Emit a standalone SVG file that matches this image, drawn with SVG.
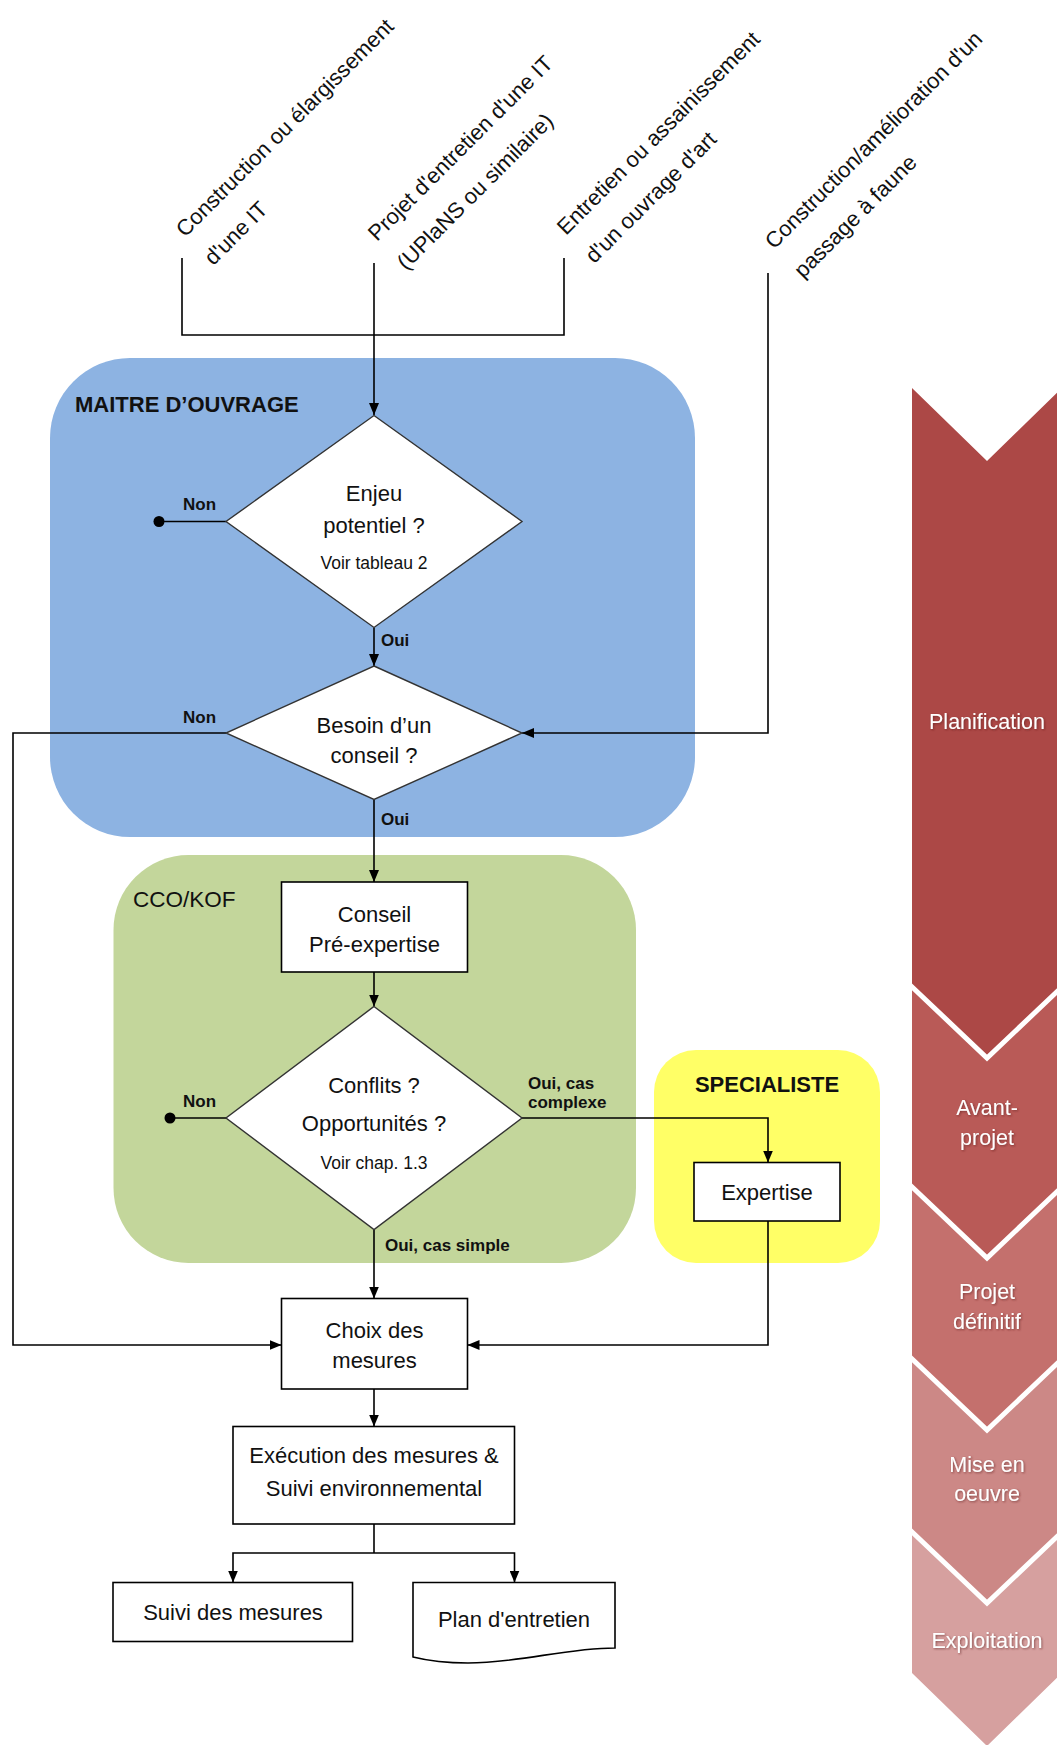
<svg xmlns="http://www.w3.org/2000/svg" width="1057" height="1745" viewBox="0 0 1057 1745">
  <defs>
    <marker id="arr" markerUnits="userSpaceOnUse" markerWidth="12" markerHeight="10" refX="12" refY="5" orient="auto">
      <path d="M0,0 L12,5 L0,10 Z" fill="#000"/>
    </marker>
    <filter id="sh" x="-10%" y="-30%" width="120%" height="160%">
      <feDropShadow dx="1" dy="1" stdDeviation="0.8" flood-color="#5a2020" flood-opacity="0.6"/>
    </filter>
  </defs>
  <style>
    text { font-family: "Liberation Sans", Arial, sans-serif; fill: #111; }
    .t22 { font-size: 22px; }
    .t18 { font-size: 17.5px; }
    .c { text-anchor: middle; }
    .lbl { font-size: 17px; font-weight: bold; }
    .hdr { font-size: 22px; font-weight: bold; }
    .box { fill: #fff; stroke: #000; stroke-width: 1.6; }
    .dia { fill: #fff; stroke: #333; stroke-width: 1.4; }
    .ln { fill: none; stroke: #000; stroke-width: 1.6; }
    .ph { fill: #fff; font-size: 21.5px; text-anchor: middle; filter: url(#sh); }
    .sep { fill: none; stroke: #fff; stroke-width: 5; }
  </style>

  <!-- Phase chevrons -->
  <g id="phases">
    <polygon points="912,388 987,461 1062,388 1062,985 987,1058 912,985" fill="#AC4846"/>
    <polygon points="912,985 987,1058 1062,985 1062,1185 987,1258 912,1185" fill="#B95A57"/>
    <polygon points="912,1185 987,1258 1062,1185 1062,1357 987,1430 912,1357" fill="#C4706D"/>
    <polygon points="912,1357 987,1430 1062,1357 1062,1530 987,1603 912,1530" fill="#CC8886"/>
    <polygon points="912,1530 987,1603 1062,1530 1062,1673 987,1746 912,1673" fill="#D6A09F"/>
    <polyline class="sep" points="910,985 987,1058 1064,985"/>
    <polyline class="sep" points="910,1185 987,1258 1064,1185"/>
    <polyline class="sep" points="910,1357 987,1430 1064,1357"/>
    <polyline class="sep" points="910,1530 987,1603 1064,1530"/>
    <text class="ph" x="987" y="729">Planification</text>
    <text class="ph" x="987" y="1115">Avant-</text>
    <text class="ph" x="987" y="1145">projet</text>
    <text class="ph" x="987" y="1299">Projet</text>
    <text class="ph" x="987" y="1329">définitif</text>
    <text class="ph" x="987" y="1472">Mise en</text>
    <text class="ph" x="987" y="1501">oeuvre</text>
    <text class="ph" x="987" y="1648">Exploitation</text>
  </g>

  <!-- Swimlanes -->
  <g id="lane-maitre">
    <rect x="50" y="358" width="645" height="479" rx="80" ry="80" fill="#8DB3E2"/>
    <text class="hdr" x="75" y="412">MAITRE D’OUVRAGE</text>
  </g>
  <g id="lane-cco">
    <rect x="113.5" y="855" width="522.5" height="408" rx="75" ry="75" fill="#C3D69B"/>
    <text class="t22" x="133" y="907" style="font-size:22.5px">CCO/KOF</text>
  </g>
  <g id="lane-specialiste">
    <rect x="654" y="1050" width="226" height="213" rx="42" ry="42" fill="#FFFF66"/>
    <text class="hdr" x="767" y="1092" text-anchor="middle">SPECIALISTE</text>
  </g>

  <!-- Triggers (rotated) -->
  <g id="trigger-1">
    <text class="t22" transform="translate(185,238) rotate(-45)"><tspan x="0" y="0">Construction ou élargissement</tspan><tspan x="0" y="40">d'une IT</tspan></text>
  </g>
  <g id="trigger-2">
    <text class="t22" transform="translate(377,242) rotate(-45)"><tspan x="0" y="0">Projet d'entretien d'une IT</tspan><tspan x="0" y="41">(UPlaNS ou similaire)</tspan></text>
  </g>
  <g id="trigger-3">
    <text class="t22" transform="translate(566,236) rotate(-45)"><tspan x="0" y="0">Entretien ou assainissement</tspan><tspan x="0" y="40">d'un ouvrage d'art</tspan></text>
  </g>
  <g id="trigger-4">
    <text class="t22" transform="translate(774,250) rotate(-45)"><tspan x="0" y="0">Construction/amélioration d'un</tspan><tspan x="0" y="41">passage à faune</tspan></text>
  </g>

  <!-- Connectors -->
  <g id="connectors">
    <path class="ln" d="M182,258 V335 H564 V258"/>
    <path class="ln" d="M374,263 V415" marker-end="url(#arr)"/>
    <path class="ln" d="M226,521.5 H159"/>
    <circle cx="159" cy="521.5" r="5.5" fill="#000"/>
    <path class="ln" d="M374,627.5 V666" marker-end="url(#arr)"/>
    <path class="ln" d="M768,273 V733 H522" marker-end="url(#arr)"/>
    <path class="ln" d="M226,733 H13 V1345 H281.5" marker-end="url(#arr)"/>
    <path class="ln" d="M374,799.5 V882" marker-end="url(#arr)"/>
    <path class="ln" d="M374,972 V1006.5" marker-end="url(#arr)"/>
    <path class="ln" d="M226,1118 H170"/>
    <circle cx="170" cy="1118" r="5.5" fill="#000"/>
    <path class="ln" d="M522,1118 H768 V1162.5" marker-end="url(#arr)"/>
    <path class="ln" d="M374,1229.5 V1298.5" marker-end="url(#arr)"/>
    <path class="ln" d="M768,1221 V1345 H467.5" marker-end="url(#arr)"/>
    <path class="ln" d="M374,1389 V1426.5" marker-end="url(#arr)"/>
    <path class="ln" d="M374,1524 V1553"/>
    <path class="ln" d="M374,1553 H233 V1582.5" marker-end="url(#arr)"/>
    <path class="ln" d="M374,1553 H514.5 V1582.5" marker-end="url(#arr)"/>
    <text class="lbl" x="183" y="510">Non</text>
    <text class="lbl" x="381" y="646">Oui</text>
    <text class="lbl" x="183" y="723">Non</text>
    <text class="lbl" x="381" y="825">Oui</text>
    <text class="lbl" x="183" y="1107">Non</text>
    <text class="lbl" x="528" y="1089">Oui, cas</text>
    <text class="lbl" x="528" y="1108">complexe</text>
    <text class="lbl" x="385" y="1251">Oui, cas simple</text>
  </g>

  <!-- Nodes -->
  <g id="d-enjeu">
    <polygon class="dia" points="374,415.5 522,521.5 374,627.5 226,521.5"/>
    <text class="t22 c" x="374" y="501">Enjeu</text>
    <text class="t22 c" x="374" y="533">potentiel ?</text>
    <text class="t18 c" x="374" y="569">Voir tableau 2</text>
  </g>
  <g id="d-besoin">
    <polygon class="dia" points="374,666 522,733 374,799.5 226,733"/>
    <text class="t22 c" x="374" y="733">Besoin d’un</text>
    <text class="t22 c" x="374" y="763">conseil ?</text>
  </g>
  <g id="n-conseil">
    <rect class="box" x="281.5" y="882" width="186" height="90"/>
    <text class="t22 c" x="374.5" y="922">Conseil</text>
    <text class="t22 c" x="374.5" y="952">Pré-expertise</text>
  </g>
  <g id="d-conflits">
    <polygon class="dia" points="374,1006.5 522,1118 374,1229.5 226,1118"/>
    <text class="t22 c" x="374" y="1093">Conflits ?</text>
    <text class="t22 c" x="374" y="1131">Opportunités ?</text>
    <text class="t18 c" x="374" y="1169">Voir chap. 1.3</text>
  </g>
  <g id="n-expertise">
    <rect class="box" x="694" y="1162.5" width="146" height="58.5"/>
    <text class="t22 c" x="767" y="1200">Expertise</text>
  </g>
  <g id="n-choix">
    <rect class="box" x="281.5" y="1298.5" width="186" height="90.5"/>
    <text class="t22 c" x="374.5" y="1338">Choix des</text>
    <text class="t22 c" x="374.5" y="1368">mesures</text>
  </g>
  <g id="n-execution">
    <rect class="box" x="233" y="1426.5" width="281.5" height="97.5"/>
    <text class="t22 c" x="374" y="1463">Exécution des mesures &amp;</text>
    <text class="t22 c" x="374" y="1496">Suivi environnemental</text>
  </g>
  <g id="n-suivi">
    <rect class="box" x="113" y="1582.5" width="239.5" height="59"/>
    <text class="t22 c" x="233" y="1620">Suivi des mesures</text>
  </g>
  <g id="n-plan">
    <path class="box" d="M413,1582.5 H615 V1648 C565,1648 520,1663 468,1663 C445,1663 425,1660 413,1657 Z"/>
    <text class="t22 c" x="514" y="1627">Plan d'entretien</text>
  </g>
</svg>
